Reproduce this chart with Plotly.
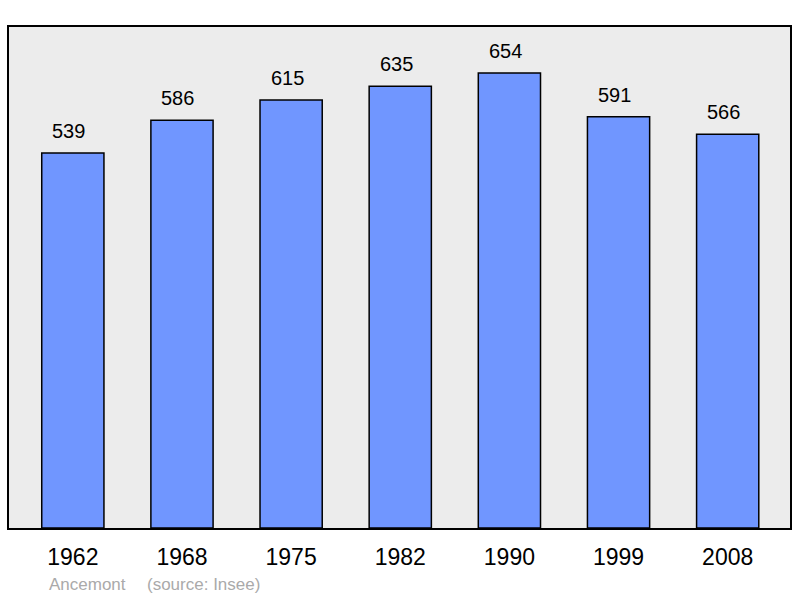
import plotly.graph_objects as go

years = ["1962", "1968", "1975", "1982", "1990", "1999", "2008"]
population = [539, 586, 615, 635, 654, 591, 566]
positions = list(range(len(years)))

FONT = "Liberation Sans, Arial, sans-serif"

fig = go.Figure()
fig.add_trace(go.Bar(
    x=positions, y=population, width=0.57,
    marker=dict(color="#7096ff", line=dict(color="#000000", width=1.5)),
    hoverinfo="skip",
))

for p, v in zip(positions, population):
    fig.add_annotation(x=p, y=v, text=str(v), showarrow=False, yanchor="bottom",
                       yshift=9, xshift=-4,
                       font=dict(family=FONT, size=20, color="#000"))

PLOT_W = 783
fig.add_annotation(xref="paper", yref="paper", x=(47 - 9) / PLOT_W, y=-0.112, xanchor="left", yanchor="middle",
                   text="Ancemont", showarrow=False,
                   font=dict(family=FONT, size=17, color="#aaaaaa"))
fig.add_annotation(xref="paper", yref="paper", x=(145 - 9) / PLOT_W, y=-0.112, xanchor="left", yanchor="middle",
                   text="(source: Insee)", showarrow=False,
                   font=dict(family=FONT, size=17, color="#aaaaaa"))

fig.update_layout(
    width=800, height=598,
    margin=dict(l=9, r=8, t=27, b=70),
    paper_bgcolor="white", plot_bgcolor="#ececec",
    showlegend=False,
    xaxis=dict(range=[-0.585, 6.571], tickvals=positions, ticktext=years,
               showgrid=False, zeroline=False, showline=True, mirror=True,
               linecolor="#000", linewidth=2, ticks="outside", ticklen=7,
               tickcolor="rgba(0,0,0,0)",
               tickfont=dict(family=FONT, size=23, color="#000"),
               fixedrange=True),
    yaxis=dict(range=[0, 720], showgrid=False, zeroline=False, showticklabels=False,
               showline=True, mirror=True, linecolor="#000", linewidth=2, fixedrange=True),
)

fig.write_html("out.html", config={"displayModeBar": False, "staticPlot": True},
               post_script="document.body.style.margin='0';document.body.style.overflow='hidden';")
